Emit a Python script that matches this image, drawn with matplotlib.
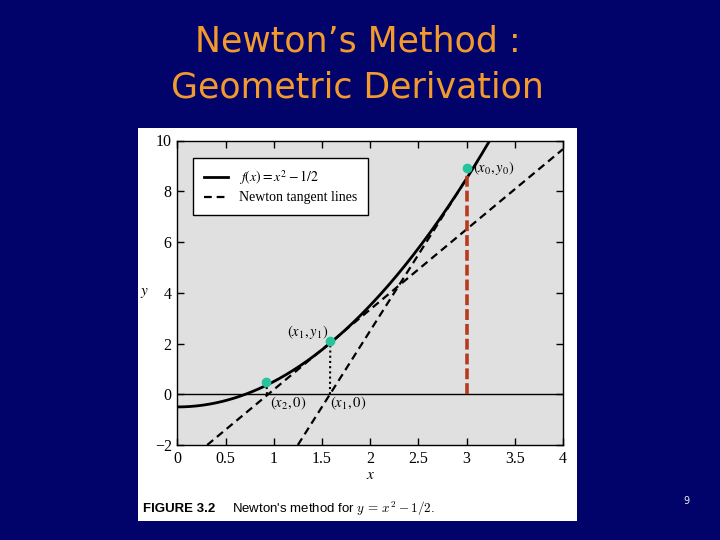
import numpy as np
import matplotlib
matplotlib.use("Agg")
import matplotlib.pyplot as plt
from matplotlib.patches import Rectangle

# ---- data ----
curve_x = np.linspace(0, 3.3, 300)
curve_y = curve_x**2 - 0.5                      # f(x) = x^2 - 1/2 (as labelled)
tangent0_x = [1.25, 3.0]                        # tangent at x0
tangent0_y = [-2.0, 8.5]
tangent1_x = [0.31, 4.0]                        # tangent at x1
tangent1_y = [-2.0, 9.66]
points_x = [3.0, 1.587, 0.925]                  # (x0,y0), (x1,y1), (x2,y2)
points_y = [8.9, 2.08, 0.50]
roots_x = [1.583, 0.93]                         # (x1,0), (x2,0)
xticks = [0, 0.5, 1, 1.5, 2, 2.5, 3, 3.5, 4]
xtick_labels = ["0", "0.5", "1", "1.5", "2", "2.5", "3", "3.5", "4"]
yticks = [-2, 0, 2, 4, 6, 8, 10]
ytick_labels = ["\u22122", "0", "2", "4", "6", "8", "10"]

fig = plt.figure(figsize=(7.2, 5.4), dpi=100)
fig.patch.set_facecolor("#02036a")

# title
title_color = "#f29a2e"
fig.text(0.497, 1 - 42 / 540, "Newton\u2019s Method :", ha="center", va="center",
         fontsize=25, color=title_color, family="DejaVu Sans")
fig.text(0.497, 1 - 88 / 540, "Geometric Derivation", ha="center", va="center",
         fontsize=25, color=title_color, family="DejaVu Sans")

# white inset panel
fig.add_artist(Rectangle((138 / 720, 1 - 521 / 540), 439 / 720, 393 / 540,
                         transform=fig.transFigure, facecolor="white",
                         edgecolor="none", zorder=0))

ax = fig.add_axes([177.3 / 720, 1 - 445 / 540, 385.7 / 720, 304.5 / 540])
ax.set_facecolor("#e0e0e0")
ax.set_xlim(0, 4)
ax.set_ylim(-2, 10)

ax.axhline(0, color="black", lw=1.0)
l1, = ax.plot(curve_x, curve_y, color="black", lw=2.0, label=r"$f(x) = x^2 - 1/2$")
l2, = ax.plot(tangent0_x, tangent0_y, color="black", lw=1.6, ls=(0, (3.5, 2.2)),
              label="Newton tangent lines")
ax.plot(tangent1_x, tangent1_y, color="black", lw=1.6, ls=(0, (3.5, 2.2)))

# dotted drops
ax.plot([roots_x[0], points_x[1]], [0, points_y[1]], color="black", lw=1.5,
        ls=(0, (1, 1.5)))
ax.plot([roots_x[1], points_x[2]], [0, points_y[2]], color="black", lw=1.5,
        ls=(0, (1, 1.5)))

# red dashed vertical at x0
ax.plot([points_x[0], points_x[0]], [0, points_y[0]], color="#b83a1e", lw=2.6,
        ls=(0, (3, 1.1)), zorder=4)

ax.plot(points_x, points_y, ls="none", marker="o", ms=6, color="#26c49c",
        mec="#26c49c", zorder=5)

mf = "stix"
ax.text(3.07, points_y[0], r"$(x_0, y_0)$", fontsize=10.5,
        va="center", ha="left", math_fontfamily=mf)
ax.text(1.35, 2.47, r"$(x_1, y_1)$", fontsize=10.5, va="center", ha="center",
        math_fontfamily=mf)
ax.text(1.15, -0.36, r"$(x_2, 0)$", fontsize=10.5, va="center", ha="center",
        math_fontfamily=mf)
ax.text(1.77, -0.36, r"$(x_1, 0)$", fontsize=10.5, va="center", ha="center",
        math_fontfamily=mf)

ax.set_xticks(xticks)
ax.set_xticklabels(xtick_labels)
ax.set_yticks(yticks)
ax.set_yticklabels(ytick_labels)
ax.tick_params(direction="in", length=5, width=1, top=True, right=True,
               labelsize=11.5, pad=4)
for lab in ax.get_xticklabels() + ax.get_yticklabels():
    lab.set_family("Liberation Serif")
for sp in ax.spines.values():
    sp.set_linewidth(1.0)

ax.set_xlabel(r"$x$", fontsize=11, math_fontfamily=mf, va="center")
ax.xaxis.set_label_coords(0.502, -0.0985)
ax.set_ylabel(r"$y$", fontsize=11, math_fontfamily=mf, rotation=0,
              va="center", ha="center")
ax.yaxis.set_label_coords(-0.086, 0.50)

leg = ax.legend(handles=[l1, l2], loc="upper left", bbox_to_anchor=(0.041, 0.9425),
                borderaxespad=0, fancybox=False, edgecolor="black", framealpha=1,
                facecolor="white",
                prop={"family": "Liberation Serif", "size": 10},
                handlelength=1.75, handletextpad=0.8, borderpad=0.75,
                labelspacing=0.3)
leg.get_frame().set_linewidth(1.0)
for t in leg.get_texts():
    t.set_math_fontfamily(mf)

# caption
fig.text(143 / 720, 1 - 509 / 540, "FIGURE 3.2", fontsize=9.5, weight="bold",
         family="Liberation Sans", va="center", ha="left")
fig.text(232 / 720, 1 - 509 / 540, r"Newton's method for $y\, =\, x^2 - 1/2$.",
         fontsize=9.5, family="Liberation Sans", va="center", ha="left",
         math_fontfamily="cm")

# page number
fig.text(686 / 720, 1 - 501 / 540, "9", fontsize=7, color="#f0f0e0",
         ha="center", va="center", family="DejaVu Sans")

fig.savefig("out.png", dpi=100, facecolor=fig.get_facecolor())
